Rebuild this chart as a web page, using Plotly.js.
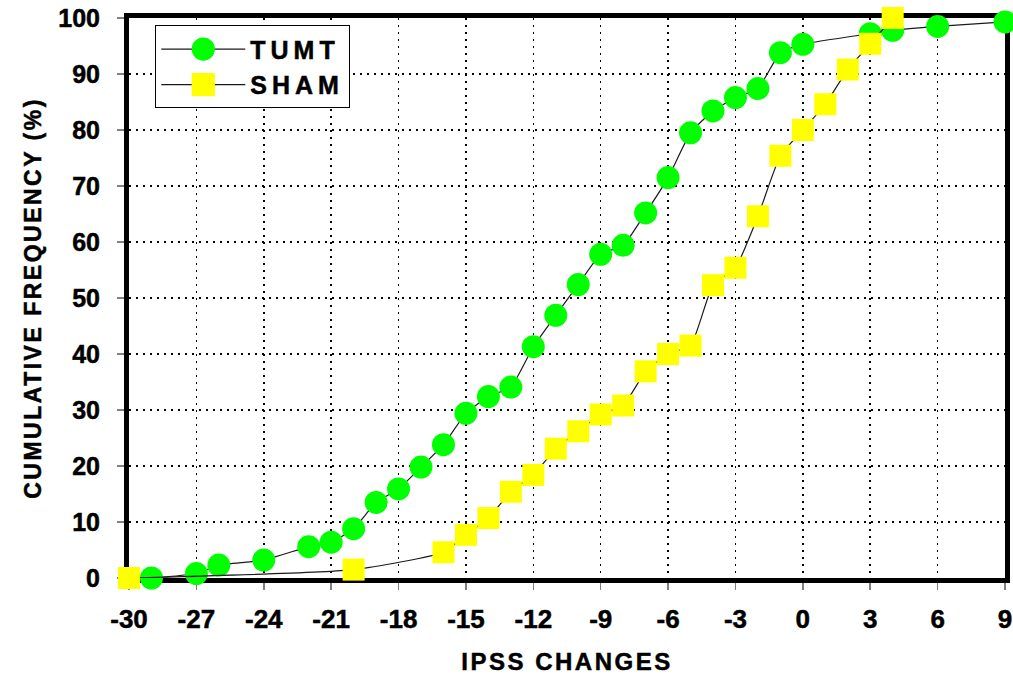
<!DOCTYPE html>
<html>
<head>
<meta charset="utf-8">
<script src="https://cdn.plot.ly/plotly-3.0.1.min.js"></script>
<style>
html,body{margin:0;padding:0;background:#fff;}
#chart{width:1013px;height:675px;}
.xtitle,.ytitle{letter-spacing:2.5px;}
.legendtext{letter-spacing:5px;}
.xtick text,.ytick text,.xtitle,.ytitle,.legendtext{stroke:#000;stroke-width:0.5px;}
</style>
</head>
<body>
<div id="chart"></div>
<script>
// Data
var tumtX = [-29,-27,-26,-24,-22,-21,-20,-19,-18,-17,-16,-15,-14,-13,-12,-11,-10,-9,-8,-7,-6,-5,-4,-3,-2,-1,0,3,4,6,9];
var tumtY = [0,0.8,2.3,3.2,5.6,6.4,8.8,13.5,15.9,19.8,23.8,29.4,32.4,34.1,41.3,46.9,52.4,57.8,59.4,65.2,71.5,79.5,83.4,85.8,87.4,93.8,95.3,97.2,97.8,98.5,99.3];
var shamX = [-30,-20,-16,-15,-14,-13,-12,-11,-10,-9,-8,-7,-6,-5,-4,-3,-2,-1,0,1,2,3,4];
var shamY = [0,1.5,4.6,7.7,10.7,15.4,18.4,23.1,26.2,29.2,30.8,36.9,40.0,41.5,52.3,55.4,64.6,75.4,80.0,84.6,90.8,95.4,100];
var xTicks = [-30,-27,-24,-21,-18,-15,-12,-9,-6,-3,0,3,6,9];
var yTicks = [0,10,20,30,40,50,60,70,80,90,100];

var FONT = '"Liberation Sans", Arial, Helvetica, sans-serif';

var traces = [
  {
    x: tumtX, y: tumtY, name: 'TUMT', type: 'scatter', mode: 'lines+markers',
    line: {color: '#1a1a1a', width: 1.2, shape: 'spline', smoothing: 0.5},
    marker: {symbol: 'circle', size: 23, color: '#00FF00', line: {width: 0}},
    cliponaxis: false
  },
  {
    x: shamX, y: shamY, name: 'SHAM', type: 'scatter', mode: 'lines+markers',
    line: {color: '#1a1a1a', width: 1.2, shape: 'spline', smoothing: 0.5},
    marker: {symbol: 'square', size: 22, color: '#FFFF00', line: {width: 0}},
    cliponaxis: false
  }
];

var axisCommon = {
  showline: true, linecolor: '#000', linewidth: 5, mirror: true,
  showgrid: true, gridcolor: '#000', gridwidth: 1.5, griddash: '2px,5px',
  zeroline: false, ticks: 'outside', ticklen: 7, tickwidth: 1.5, tickcolor: '#808080',
  layer: 'below traces',
  tickfont: {family: FONT, size: 25, color: '#000', weight: 'bold'}
};

var layout = {
  width: 1013, height: 675,
  margin: {l: 129, r: 8, t: 18, b: 97},
  paper_bgcolor: '#fff', plot_bgcolor: '#fff',
  showlegend: true,
  legend: {
    x: 0.03, y: 0.987, xanchor: 'left', yanchor: 'top',
    bgcolor: '#fff', bordercolor: '#000', borderwidth: 1,
    font: {family: FONT, size: 25, color: '#000', weight: 'bold'},
    itemwidth: 84, tracegroupgap: 0
  },
  xaxis: Object.assign({}, axisCommon, {
    range: [-30, 9], tickmode: 'array', tickvals: xTicks, ticktext: xTicks.map(String),
    tickfont: {family: FONT, size: 26, color: '#000', weight: 'bold'},
    ticklabelstandoff: 7,
    title: {text: 'IPSS CHANGES', font: {family: FONT, size: 24, color: '#000', weight: 'bold'}, standoff: 22}
  }),
  yaxis: Object.assign({}, axisCommon, {
    range: [0, 100], tickmode: 'array', tickvals: yTicks, ticktext: yTicks.map(String),
    ticklabelstandoff: 12,
    title: {text: 'CUMULATIVE FREQUENCY (%)', font: {family: FONT, size: 23, color: '#000', weight: 'bold'}, standoff: 12}
  })
};

Plotly.newPlot('chart', traces, layout, {staticPlot: true, displayModeBar: false}).then(function () {
  // enlarge legend symbols to match the reference's big markers
  document.querySelectorAll('.legend path.scatterpts').forEach(function (p) {
    var t = p.getAttribute('transform') || '';
    p.setAttribute('transform', t + ' scale(1.45)');
  });
});
</script>
</body>
</html>
